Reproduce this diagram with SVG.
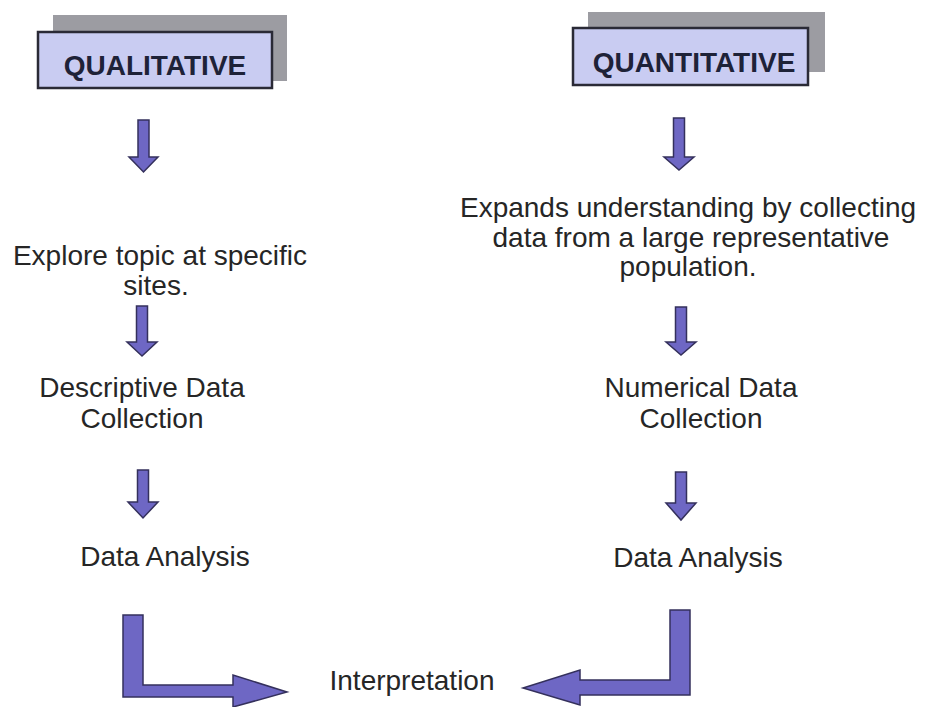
<svg xmlns="http://www.w3.org/2000/svg" width="926" height="707" viewBox="0 0 926 707">
<style>
.t{font-family:"Liberation Sans",Arial,sans-serif;font-size:28px;fill:#262626;text-anchor:middle}
.h{font-family:"Liberation Sans",Arial,sans-serif;font-size:28px;font-weight:bold;fill:#1e2238;text-anchor:middle}
.shadow{fill:#9c9ca2}
.box{fill:#c9ccf2;stroke:#2a2a36;stroke-width:2.5}
.arr{fill:#6e67c4;stroke:#34305c;stroke-width:1.5;stroke-linejoin:miter}
</style>
<rect width="926" height="707" fill="#ffffff"/>
<g id="qualitative">
<rect class="shadow" x="53" y="15" width="234" height="66"/>
<rect class="box" x="38" y="32" width="234" height="56"/>
<text class="h" x="155" y="75">QUALITATIVE</text>
</g>
<g id="quantitative">
<rect class="shadow" x="588" y="12" width="237" height="60"/>
<rect class="box" x="573" y="28" width="235" height="57"/>
<text class="h" x="694" y="72">QUANTITATIVE</text>
</g>
<g id="explore">
<text class="t" x="160" y="265">Explore topic at specific</text>
<text class="t" x="156" y="295">sites.</text>
</g>
<g id="expands">
<text class="t" x="688" y="217">Expands understanding by collecting</text>
<text class="t" x="691" y="247">data from a large representative</text>
<text class="t" x="688" y="276">population.</text>
</g>
<g id="descriptive">
<text class="t" x="142" y="397">Descriptive Data</text>
<text class="t" x="142" y="428">Collection</text>
</g>
<g id="numerical">
<text class="t" x="701" y="397">Numerical Data</text>
<text class="t" x="701" y="428">Collection</text>
</g>
<g id="analysis-left">
<text class="t" x="165" y="566">Data Analysis</text>
</g>
<g id="analysis-right">
<text class="t" x="698" y="567">Data Analysis</text>
</g>
<g id="interpretation">
<text class="t" x="412" y="690">Interpretation</text>
</g>
<g id="connectors">
<polygon class="arr" points="138,120 149,120 149,157 158,157 143.5,172 129,157 138,157"/>
<polygon class="arr" points="673.5,118 684.5,118 684.5,157 694,157 679,170 664,157 673.5,157"/>
<polygon class="arr" points="136.5,306 147.5,306 147.5,342 157,342 142,356 127,342 136.5,342"/>
<polygon class="arr" points="675.5,307 686.5,307 686.5,342 696,342 681,355 666,342 675.5,342"/>
<polygon class="arr" points="137.5,470 148.5,470 148.5,502 158,502 143,518 128,502 137.5,502"/>
<polygon class="arr" points="675.5,472 686.5,472 686.5,503 696,503 681,520 666,503 675.5,503"/>
<path class="arr" d="M123,615 L143,615 L143,685 L233,685 L233,675 L287,692 L233,707 L233,697 L123,697 Z"/>
<path class="arr" d="M690,610 L670,610 L670,680 L580,680 L580,670 L523,688 L580,705 L580,695 L690,695 Z"/>
</g>
</svg>
